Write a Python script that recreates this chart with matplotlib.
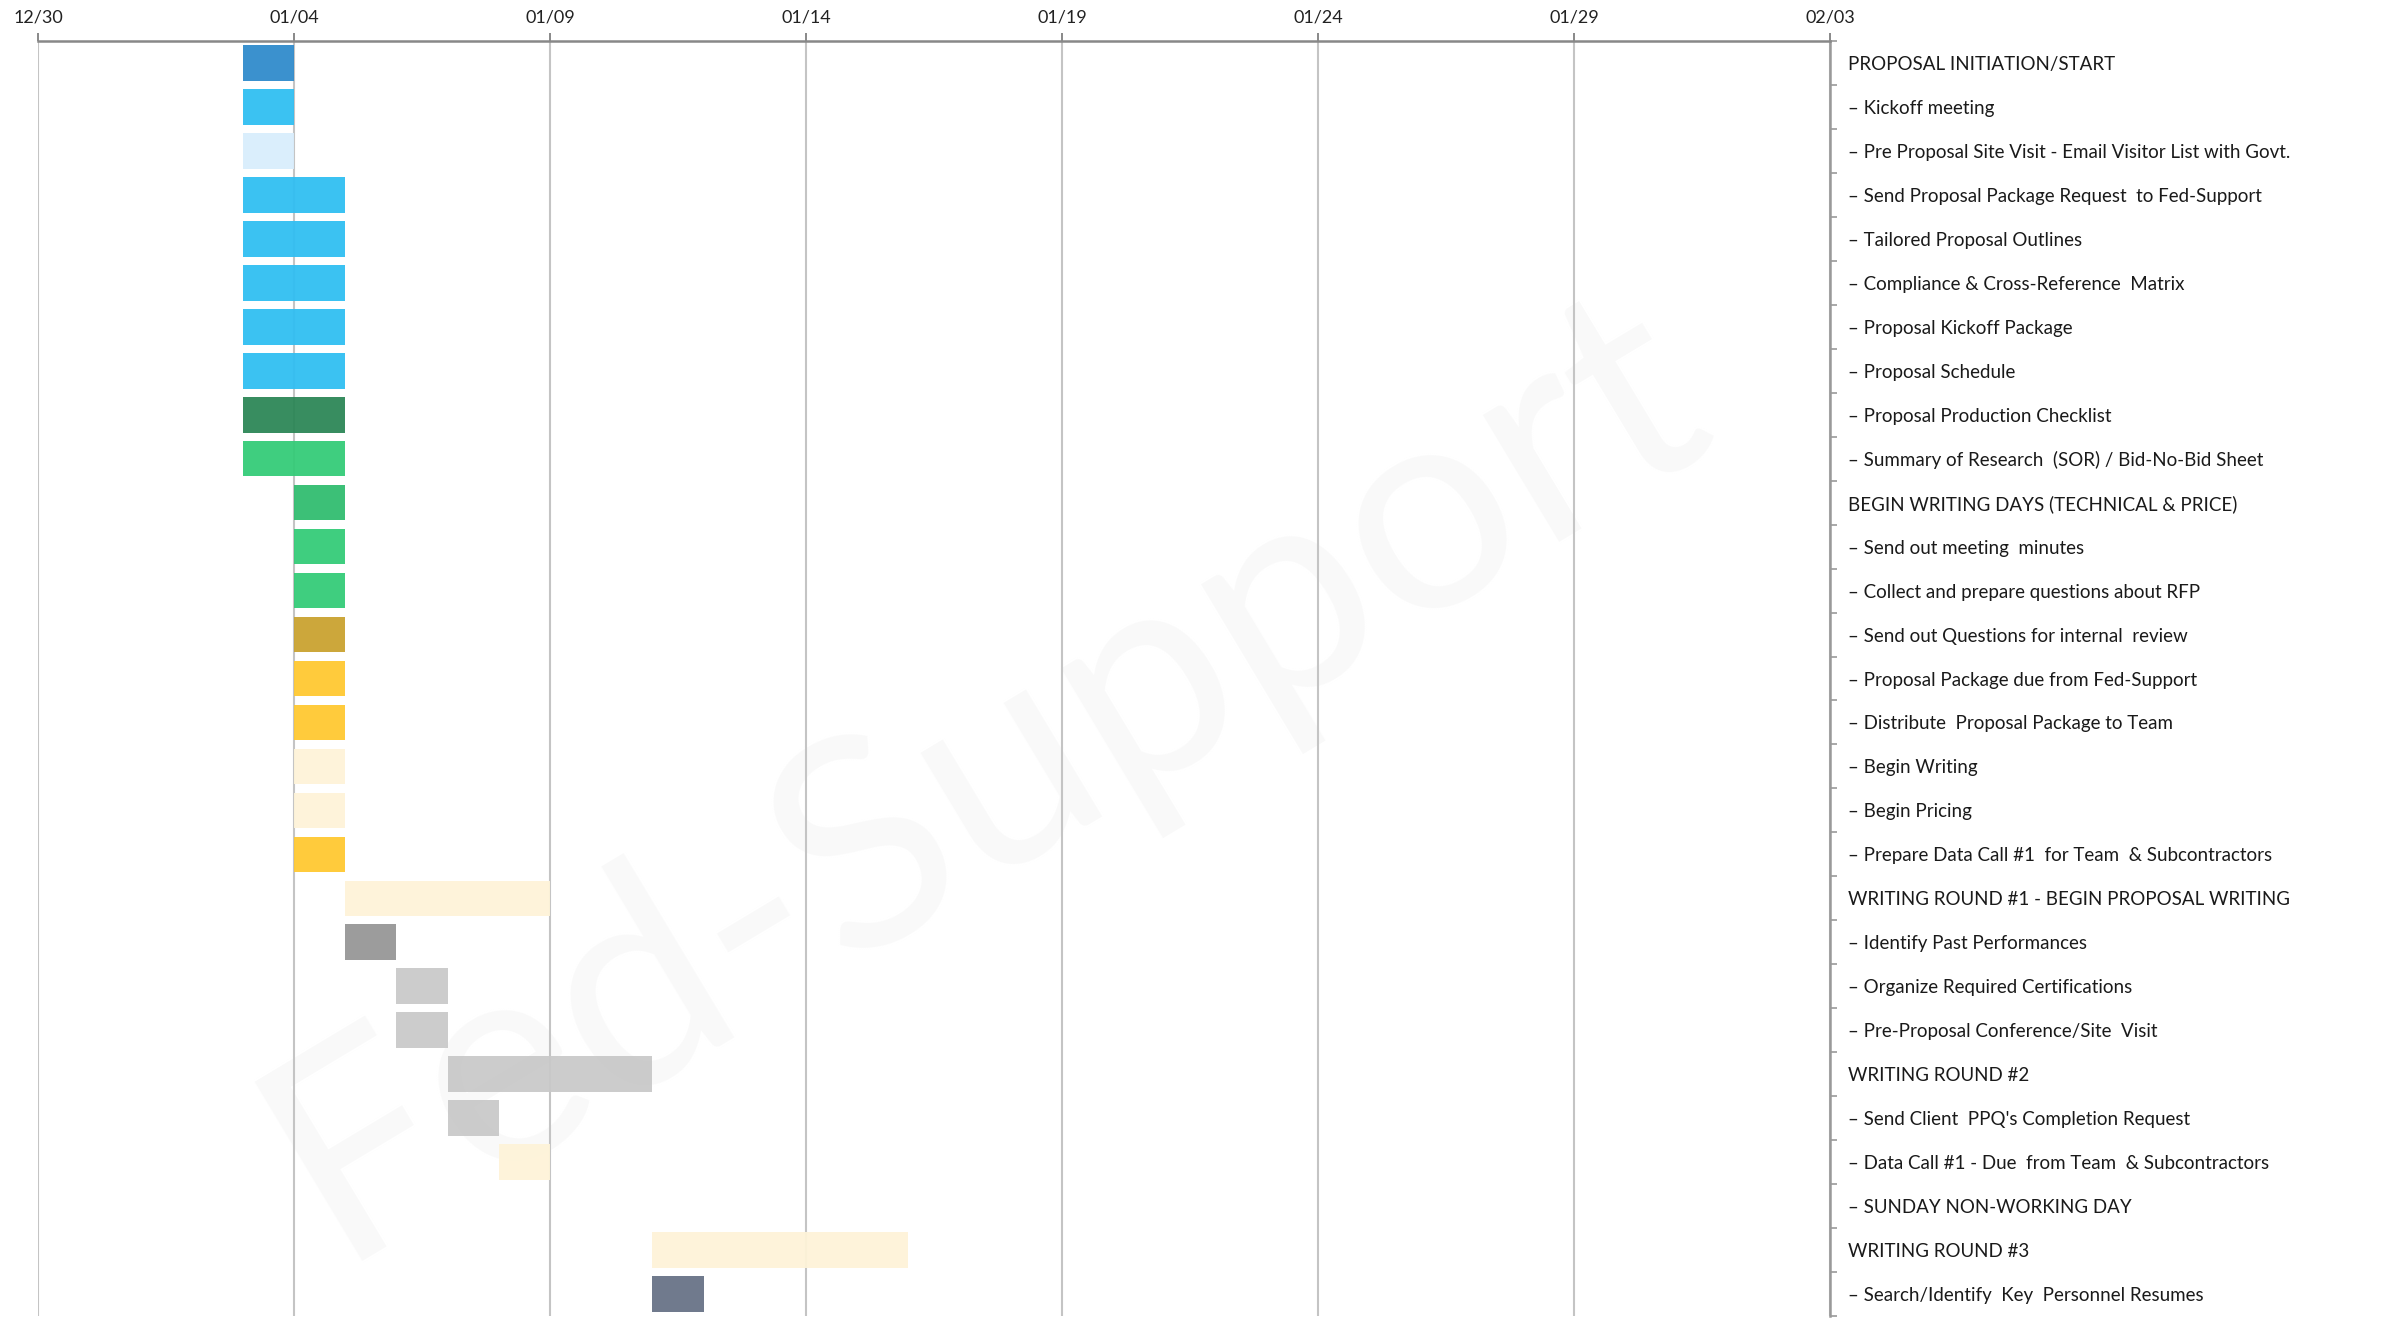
import matplotlib

matplotlib.use("Agg")

import matplotlib.pyplot as plt

plt.rcParams["font.family"] = ["Lato", "DejaVu Sans"]

# days counted from 12/30
tick_days = [0, 5, 10, 15, 20, 25, 30, 35]
tick_labels = ["12/30", "01/04", "01/09", "01/14", "01/19", "01/24", "01/29", "02/03"]

tasks = [
    "PROPOSAL INITIATION/START",
    "– Kickoff meeting",
    "– Pre Proposal Site Visit - Email Visitor List with Govt.",
    "– Send Proposal Package Request  to Fed-Support",
    "– Tailored Proposal Outlines",
    "– Compliance & Cross-Reference  Matrix",
    "– Proposal Kickoff Package",
    "– Proposal Schedule",
    "– Proposal Production Checklist",
    "– Summary of Research  (SOR) / Bid-No-Bid Sheet",
    "BEGIN WRITING DAYS (TECHNICAL & PRICE)",
    "– Send out meeting  minutes",
    "– Collect and prepare questions about RFP",
    "– Send out Questions for internal  review",
    "– Proposal Package due from Fed-Support",
    "– Distribute  Proposal Package to Team",
    "– Begin Writing",
    "– Begin Pricing",
    "– Prepare Data Call #1  for Team  & Subcontractors",
    "WRITING ROUND #1 - BEGIN PROPOSAL WRITING",
    "– Identify Past Performances",
    "– Organize Required Certifications",
    "– Pre-Proposal Conference/Site  Visit",
    "WRITING ROUND #2",
    "– Send Client  PPQ's Completion Request",
    "– Data Call #1 - Due  from Team  & Subcontractors",
    "– SUNDAY NON-WORKING DAY",
    "WRITING ROUND #3",
    "– Search/Identify  Key  Personnel Resumes",
]

starts = [4, 4, 4, 4, 4, 4, 4, 4, 4, 4,
          5, 5, 5, 5, 5, 5, 5, 5, 5,
          6, 6, 7, 7, 8, 8, 9, 0, 12, 12]
durations = [1, 1, 1, 2, 2, 2, 2, 2, 2, 2,
             1, 1, 1, 1, 1, 1, 1, 1, 1,
             4, 1, 1, 1, 4, 1, 1, 0, 5, 1]
colors = [
    "#2f8acb", "#2fbef2", "#d8edfc", "#2fbef2", "#2fbef2", "#2fbef2", "#2fbef2",
    "#2fbef2", "#2b8656", "#33cb77",
    "#30bc6f", "#33cb77", "#33cb77", "#c9a22f", "#ffc830", "#ffc830",
    "#fef3d8", "#fef3d8", "#ffc830",
    "#fef3d8", "#969696", "#c9c9c9", "#c9c9c9", "#c9c9c9", "#c9c9c9",
    "#fef3d8", "#ffffff", "#fef3d8", "#677286",
]

fig = plt.figure(figsize=(23.9, 13.18), dpi=100)
ax = fig.add_axes([38 / 2390, 2 / 1318, (1830 - 38) / 2390, (1316 - 41) / 1318])

rows = list(range(len(tasks)))
ax.barh(rows, durations, left=starts, height=0.81, color=colors,
        alpha=0.94, zorder=3, linewidth=0)

ax.set_xlim(0, 35)
ax.set_ylim(len(tasks) - 0.5, -0.5)

# top date axis
ax.xaxis.tick_top()
ax.set_xticks(tick_days)
ax.set_xticklabels(tick_labels, fontsize=13, color="#222222")
ax.tick_params(axis="x", length=6, width=1.4, color="#888888", pad=5)
ax.grid(axis="x", color="#c4c4c4", linewidth=1.5, zorder=1)
ax.set_axisbelow(True)

# task labels on the right
ax.yaxis.tick_right()
ax.set_yticks(rows)
ax.set_yticklabels(tasks, fontsize=13.5, color="#1a1a1a")
ax.tick_params(axis="y", which="major", length=0, pad=13)
ax.set_yticks([r + 0.5 for r in [-1] + rows], minor=True)
ax.tick_params(axis="y", which="minor", length=5, width=1.2,
               color="#999999", direction="out")
for t in ax.yaxis.get_ticklabels():
    t.set_horizontalalignment("left")

for side in ["left", "bottom"]:
    ax.spines[side].set_visible(False)
ax.spines["top"].set_color("#888888")
ax.spines["top"].set_linewidth(1.8)
ax.spines["right"].set_color("#999999")
ax.spines["right"].set_linewidth(1.8)

# watermark
ax.text(985 / 2390, 1 - 775 / 1318, "Fed-Support", transform=fig.transFigure,
        fontsize=210, color="#f9f9f9", rotation=31,
        ha="center", va="center", rotation_mode="anchor", zorder=0.2)

fig.savefig("out.png", dpi=100)
